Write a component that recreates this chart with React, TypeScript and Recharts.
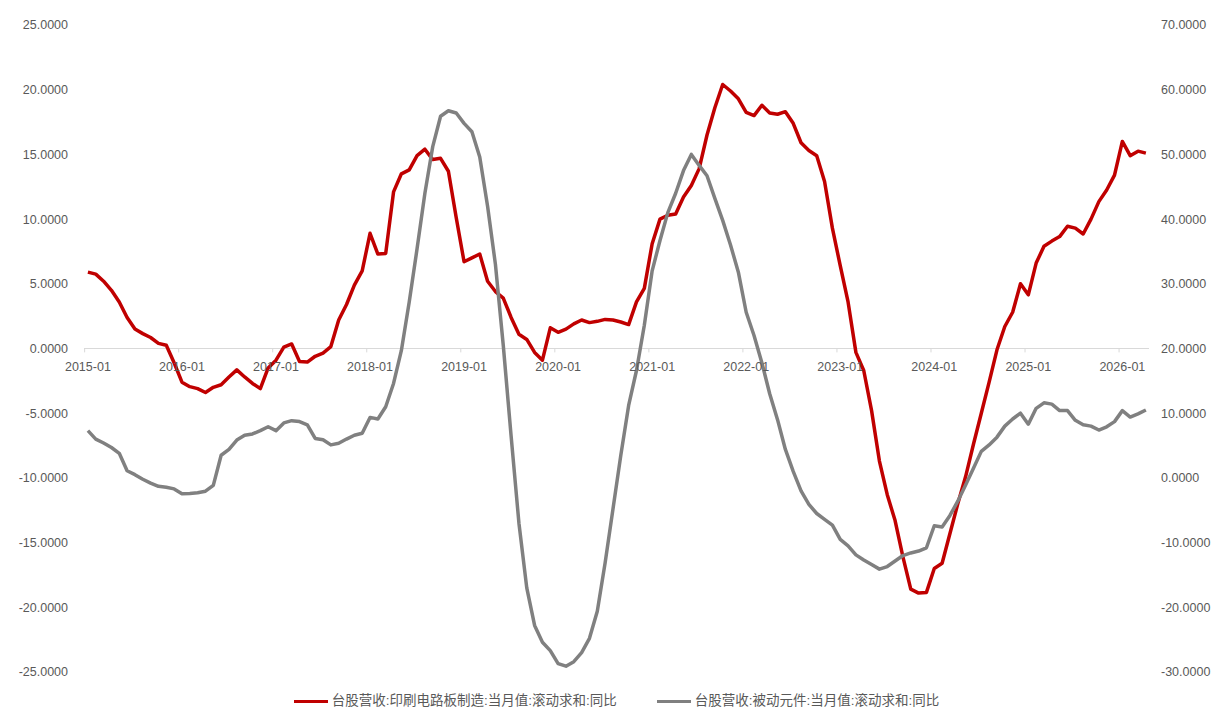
import React from 'react';
import { LineChart, Line, XAxis, YAxis, ReferenceLine, ReferenceDot } from 'recharts';

// Monthly series, 2015-01 .. 2026-04 (index 0 = 2015-01)
const pcbYoy: number[] = [
  5.9, 5.75, 5.2, 4.5, 3.6, 2.4, 1.5, 1.15, 0.85, 0.4, 0.25, -1.1,
  -2.6, -2.95, -3.1, -3.4, -3.0, -2.8, -2.2, -1.65, -2.2, -2.7, -3.1, -1.5,
  -0.9, 0.1, 0.35, -1.0, -1.05, -0.6, -0.35, 0.15, 2.2, 3.4, 4.9, 6.0,
  8.9, 7.3, 7.35, 12.1, 13.5, 13.8, 14.9, 15.4, 14.6, 14.7, 13.7, 10.1,
  6.7, 7.0, 7.3, 5.2, 4.4, 3.9, 2.4, 1.1, 0.7, -0.3, -0.9, 1.6,
  1.25, 1.5, 1.9, 2.2, 2.0, 2.1, 2.25, 2.2, 2.05, 1.85, 3.6, 4.65,
  8.1, 10.0, 10.3, 10.4, 11.7, 12.6, 13.9, 16.5, 18.6, 20.4, 19.9, 19.3,
  18.25, 18.0, 18.8, 18.2, 18.1, 18.3, 17.4, 15.9, 15.3, 14.9, 12.9, 9.3,
  6.4, 3.6, -0.3, -1.7, -4.8, -8.7, -11.3, -13.3, -16.1, -18.6, -18.9, -18.85,
  -17.0, -16.6, -14.3, -12.0, -9.9, -7.4, -5.0, -2.6, -0.1, 1.7, 2.8, 5.0,
  4.15, 6.6, 7.9, 8.3, 8.65, 9.45, 9.3, 8.85, 10.0, 11.35, 12.25, 13.4,
  16.0, 14.9, 15.25, 15.1,
];

const passiveYoy: number[] = [
  7.3, 6.0, 5.4, 4.7, 3.8, 1.1, 0.5, -0.2, -0.8, -1.3, -1.45, -1.7,
  -2.45, -2.4, -2.3, -2.05, -1.15, 3.5, 4.4, 5.85, 6.6, 6.8, 7.3, 7.9,
  7.3, 8.5, 8.85, 8.7, 8.2, 6.1, 5.9, 5.1, 5.35, 6.0, 6.6, 6.9,
  9.35, 9.1, 11.0, 14.6, 19.7, 27.2, 35.4, 44.0, 51.2, 55.9, 56.75, 56.4,
  54.8, 53.5, 49.6, 42.0, 33.0, 20.5, 6.5, -7.0, -17.0, -22.8, -25.4, -26.7,
  -28.7, -29.1, -28.4, -27.0, -24.8, -20.6, -13.1, -4.8, 3.5, 11.2, 16.6, 23.6,
  32.0, 36.7, 41.0, 44.0, 47.5, 50.0, 48.3, 46.7, 43.2, 39.8, 36.0, 31.8,
  25.6, 22.0, 17.8, 13.0, 9.0, 4.4, 1.0, -2.0, -4.1, -5.5, -6.4, -7.3,
  -9.5, -10.5, -11.9, -12.7, -13.4, -14.1, -13.7, -12.85, -12.0, -11.6, -11.3, -10.8,
  -7.4, -7.6, -5.8, -3.6, -1.1, 1.5, 4.1, 5.1, 6.3, 8.0, 9.1, 10.0,
  8.3, 10.75, 11.6, 11.4, 10.4, 10.4, 8.9, 8.2, 8.0, 7.4, 7.9, 8.7,
  10.4, 9.4, 9.9, 10.5,
];

const yearLabels: string[] = [
  '2015-01', '2016-01', '2017-01', '2018-01', '2019-01', '2020-01',
  '2021-01', '2022-01', '2023-01', '2024-01', '2025-01', '2026-01',
];

const leftTicks = [-25, -20, -15, -10, -5, 0, 5, 10, 15, 20, 25];
const rightTicks = [-30, -20, -10, 0, 10, 20, 30, 40, 50, 60, 70];

const pcbName = '台股营收:印刷电路板制造:当月值:滚动求和:同比';
const passiveName = '台股营收:被动元件:当月值:滚动求和:同比';

const RED = '#C00000';
const GRAY = '#808080';
const TEXT = '#595959';
const AXIS = '#D9D9D9';

const data = pcbYoy.map((v, i) => ({ idx: i, pcb: v, passive: passiveYoy[i] }));

const fmt = (v: number) => v.toFixed(4);

// year label sits under the zero line, centred on the January point
const yearLabel = (label: string) => (props: any) => (
  <text x={props.cx} y={props.cy + 22} textAnchor="middle" fill={TEXT} fontSize={12.5}>
    {label}
  </text>
);

const LegendItem = ({ color, name }: { color: string; name: string }) => (
  <span style={{ display: 'flex', alignItems: 'center' }}>
    <span style={{ display: 'inline-block', width: 34, height: 3, background: color, marginRight: 4 }} />
    {name}
  </span>
);

export default function App() {
  return (
    <div
      style={{
        position: 'absolute',
        left: 0,
        top: 0,
        width: 1213,
        height: 722,
        background: '#fff',
        fontFamily: '"Liberation Sans", "Noto Sans CJK SC", sans-serif',
      }}
    >
      <LineChart width={1213} height={722} data={data} margin={{ top: 25, right: 0, bottom: 50, left: 0 }}>
        <XAxis dataKey="idx" type="number" domain={[-0.5, 135.4]} hide />
        <YAxis
          yAxisId="left"
          domain={[-25, 25]}
          ticks={leftTicks}
          tickFormatter={fmt}
          width={84}
          axisLine={false}
          tickLine={false}
          tickSize={0}
          tickMargin={16}
          tick={{ fill: TEXT, fontSize: 12.5 }}
        />
        <YAxis
          yAxisId="right"
          orientation="right"
          domain={[-30, 70]}
          ticks={rightTicks}
          tickFormatter={fmt}
          width={64}
          axisLine={false}
          tickLine={false}
          tickSize={0}
          tickMargin={12}
          tick={{ fill: TEXT, fontSize: 12.5, textAnchor: 'start' }}
        />
        <ReferenceLine yAxisId="left" y={0} stroke={AXIS} strokeWidth={1} />
        {yearLabels.map((label, k) => (
          <ReferenceLine
            key={`tick-${label}`}
            yAxisId="left"
            segment={[
              { x: k * 12 - 0.42, y: 0 },
              { x: k * 12 - 0.42, y: -0.3 },
            ]}
            stroke={AXIS}
            strokeWidth={1}
          />
        ))}
        {yearLabels.map((label, k) => (
          <ReferenceDot
            key={`lbl-${label}`}
            yAxisId="left"
            x={k * 12}
            y={0}
            r={0}
            shape={yearLabel(label)}
          />
        ))}
        <Line
          yAxisId="left"
          type="linear"
          dataKey="pcb"
          name={pcbName}
          stroke={RED}
          strokeWidth={3.5}
          dot={false}
          activeDot={false}
          strokeLinejoin="round"
          isAnimationActive={false}
        />
        <Line
          yAxisId="right"
          type="linear"
          dataKey="passive"
          name={passiveName}
          stroke={GRAY}
          strokeWidth={3.5}
          dot={false}
          activeDot={false}
          strokeLinejoin="round"
          isAnimationActive={false}
        />
      </LineChart>
      <div
        style={{
          position: 'absolute',
          left: 84,
          width: 1065,
          top: 692,
          lineHeight: '18px',
          display: 'flex',
          justifyContent: 'center',
          gap: 40,
          fontSize: 13.5,
          color: TEXT,
        }}
      >
        <LegendItem color={RED} name={pcbName} />
        <LegendItem color={GRAY} name={passiveName} />
      </div>
    </div>
  );
}
